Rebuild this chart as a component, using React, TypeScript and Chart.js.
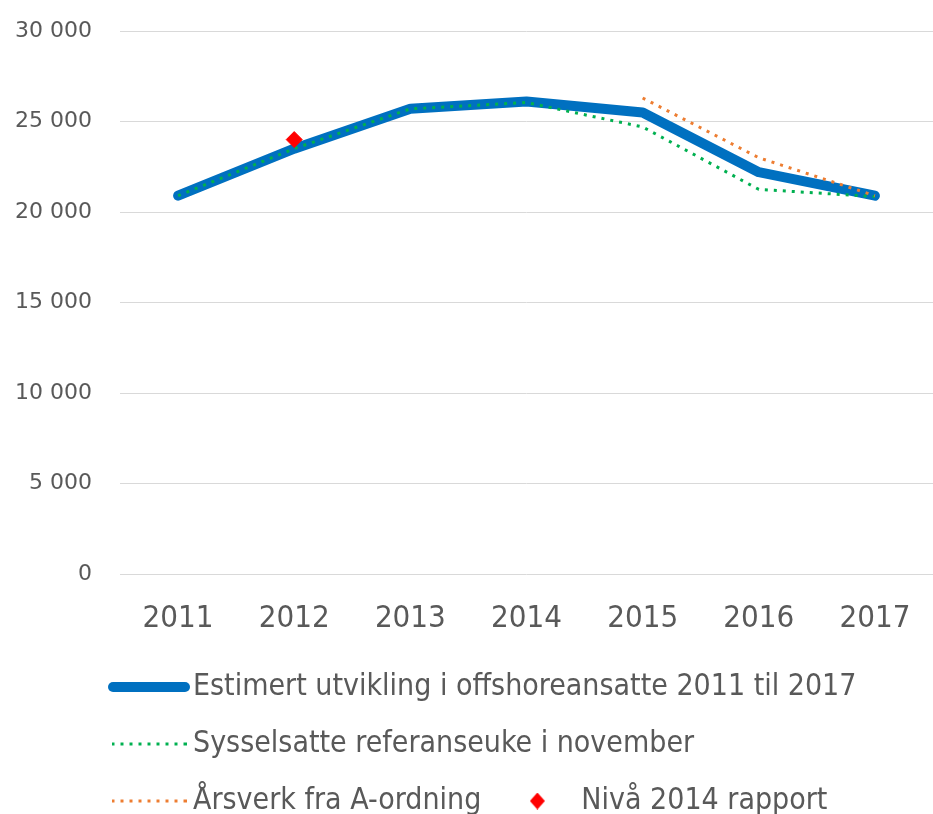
import React, { useEffect, useRef } from "react";
import { Chart, registerables } from "chart.js";

Chart.register(...registerables);

// ---- data ----
const years = ["2011", "2012", "2013", "2014", "2015", "2016", "2017"];
const estimert = [20900, 23500, 25700, 26100, 25500, 22200, 20900];
const sysselsatte = [20900, 23500, 25700, 26050, 24700, 21250, 20850];
const arsverk = [null, null, null, null, 26300, 23000, 20900];
const niva2014 = [null, 24000, null, null, null, null, null];
const yMin = 0;
const yMax = 30000;
const yStep = 5000;
const seriesNames = [
  "Estimert utvikling i offshoreansatte 2011 til 2017",
  "Sysselsatte referanseuke i november",
  "Årsverk fra A-ordning",
  "Nivå 2014 rapport",
];

const BLUE = "#0070C0";
const GREEN = "#00B050";
const ORANGE = "#ED7D31";
const RED = "#FF0000";
const TEXT = "#595959";
const CLEAR = "rgba(0,0,0,0)";
const NARROW = "'Liberation Sans Narrow', 'DejaVu Sans Condensed', sans-serif";
const DOTS = [3, 6];

function lineSwatch(color: string, w: number, lw: number, dash: number[], cap: CanvasLineCap) {
  const c = document.createElement("canvas");
  c.width = w;
  c.height = Math.ceil(lw) + 2;
  const ctx = c.getContext("2d")!;
  ctx.strokeStyle = color;
  ctx.lineWidth = lw;
  ctx.lineCap = cap;
  ctx.setLineDash(dash);
  const pad = cap === "round" ? lw / 2 : 0;
  ctx.beginPath();
  ctx.moveTo(pad, c.height / 2);
  ctx.lineTo(w - pad, c.height / 2);
  ctx.stroke();
  return c;
}

function diamondSwatch(color: string, w: number, h: number) {
  const c = document.createElement("canvas");
  c.width = w;
  c.height = h;
  const ctx = c.getContext("2d")!;
  ctx.fillStyle = color;
  ctx.beginPath();
  ctx.moveTo(w / 2, 0);
  ctx.lineTo(w, h / 2);
  ctx.lineTo(w / 2, h);
  ctx.lineTo(0, h / 2);
  ctx.closePath();
  ctx.fill();
  return c;
}

function fmt(v: number) {
  return String(v).replace(/\B(?=(\d{3})+(?!\d))/g, " ");
}

export default function App() {
  const ref = useRef<HTMLCanvasElement | null>(null);

  useEffect(() => {
    if (!ref.current) return;
    const swatches = [
      lineSwatch(BLUE, 82, 10, [], "round"),
      lineSwatch(GREEN, 75, 3, DOTS, "butt"),
      lineSwatch(ORANGE, 75, 3, DOTS, "butt"),
      diamondSwatch(RED, 15, 17),
    ];
    const legendShift = {
      id: "legendShift",
      beforeDraw(chart: any) {
        if (chart.legend) chart.legend.left = 93;
      },
    };
    const chart = new Chart(ref.current, {
      type: "line",
      data: {
        labels: years,
        datasets: [
          {
            label: seriesNames[3],
            data: niva2014,
            showLine: false,
            pointStyle: "rectRot",
            pointRadius: 8,
            pointBackgroundColor: RED,
            pointBorderColor: RED,
            borderColor: RED,
            backgroundColor: RED,
            order: 0,
          },
          {
            label: seriesNames[2],
            data: arsverk,
            borderColor: ORANGE,
            borderWidth: 3,
            borderDash: DOTS,
            borderCapStyle: "butt",
            pointRadius: 0,
            fill: false,
            order: 1,
          },
          {
            label: seriesNames[1],
            data: sysselsatte,
            borderColor: GREEN,
            borderWidth: 3,
            borderDash: DOTS,
            borderCapStyle: "butt",
            pointRadius: 0,
            fill: false,
            order: 2,
          },
          {
            label: seriesNames[0],
            data: estimert,
            borderColor: BLUE,
            borderWidth: 10,
            borderCapStyle: "round",
            borderJoinStyle: "round",
            pointRadius: 0,
            fill: false,
            order: 3,
          },
        ] as any,
      },
      options: {
        responsive: false,
        animation: false,
        devicePixelRatio: 1,
        layout: { autoPadding: false, padding: { top: 31, right: -2, bottom: 0, left: 0 } },
        plugins: {
          tooltip: { enabled: false },
          legend: {
            position: "bottom",
            align: "start",
            labels: {
              usePointStyle: true,
              pointStyleWidth: 58,
              boxHeight: 12,
              padding: 27,
              color: TEXT,
              font: { family: NARROW, size: 30 },
              generateLabels: () =>
                seriesNames.map((name, i) => ({
                  text: name,
                  pointStyle: swatches[i] as any,
                  fillStyle: CLEAR,
                  strokeStyle: CLEAR,
                  lineWidth: 0,
                  hidden: false,
                  fontColor: TEXT,
                  datasetIndex: 3 - i,
                })),
            },
          },
        },
        scales: {
          x: {
            offset: true,
            grid: { display: true, color: CLEAR, drawTicks: true, tickLength: 26, tickColor: CLEAR, offset: true },
            border: { display: false },
            ticks: {
              color: TEXT,
              font: { family: NARROW, size: 31 },
              padding: 0,
              maxRotation: 0,
            },
            afterFit: (s: any) => {
              s.height = 71;
            },
          },
          y: {
            min: yMin,
            max: yMax,
            grid: { color: "#d9d9d9", lineWidth: 1, drawTicks: true, tickLength: 28, tickColor: CLEAR },
            border: { display: false },
            ticks: {
              stepSize: yStep,
              color: TEXT,
              font: { family: "'DejaVu Sans', sans-serif", size: 22 },
              padding: 0,
              callback: (v: any) => fmt(Number(v)),
            },
            afterFit: (s: any) => {
              s.width = 120;
            },
          },
        },
      } as any,
      plugins: [legendShift],
    });
    return () => chart.destroy();
  }, []);

  return (
    <div
      style={{
        position: "absolute",
        left: 0,
        top: 0,
        width: 933,
        height: 814,
        overflow: "hidden",
        background: "#fff",
      }}
    >
      <canvas ref={ref} width={933} height={826} style={{ display: "block" }} />
    </div>
  );
}
